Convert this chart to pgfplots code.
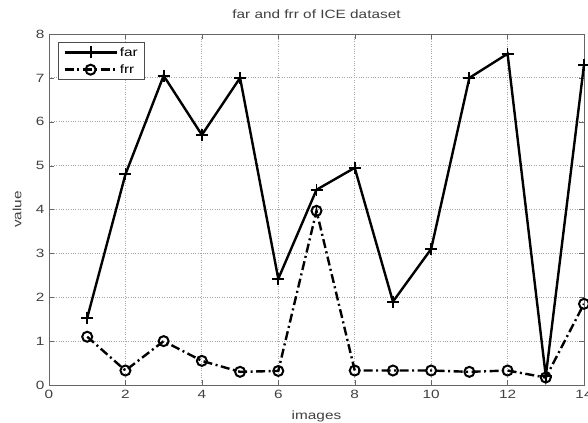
\documentclass[border=0pt]{standalone}
\usepackage{pgfplots}
\pgfplotsset{compat=1.18}
\usepackage{fontspec}
\setmainfont{Liberation Sans}[FakeStretch=1.28]
\begin{document}
\begin{tikzpicture}
\begin{axis}[
  scale only axis,
  width=535pt, height=351pt,
  xmin=0, xmax=14, ymin=0, ymax=8,
  xtick={0,2,...,14}, ytick={0,1,...,8},
  tick align=inside,
  tick pos=both,
  major tick length=5pt,
  grid=major,
  grid style={dotted, gray!70, line width=0.8pt},
  axis line style={gray!80!black, line width=0.8pt},
  tick style={gray!80!black},
  /pgf/number format/assume math mode=true,
  tick label style={font=\fontsize{12}{13}\selectfont, text=black!75},
  yticklabel style={xshift=-1pt},
  xticklabel style={yshift=-2pt},
  label style={font=\fontsize{12}{13}\selectfont, text=black!75},
  title style={font=\fontsize{12}{13}\selectfont, text=black!75,
    at={(axis description cs:0.5,1)}, anchor=center, yshift=14pt},
  title={far and frr of ICE dataset},
  xlabel={images}, ylabel={value},
  xlabel style={at={(axis description cs:0.5,0)}, anchor=center, yshift=-31pt},
  ylabel style={at={(axis description cs:-0.0598,0.5)}, anchor=center},
  legend style={at={(axis description cs:0,1)}, xshift=9pt, yshift=-8pt, anchor=north west,
    font=\fontsize{12}{13}\selectfont,
    draw=black!70, line width=0.8pt, inner xsep=5pt, inner ysep=3pt, row sep=3pt},
  legend cell align=left,
  legend image code/.code={
    \draw[mark repeat=2, mark phase=2] plot coordinates {(0pt,0pt) (26pt,0pt) (52pt,0pt)};
  },
]
\addplot[black, line width=2.4pt, mark=+, mark size=6pt, mark options={solid, line width=1.8pt}] coordinates {
  (1,1.53) (2,4.8) (3,7.05) (4,5.7) (5,7.0) (6,2.42) (7,4.45)
  (8,4.95) (9,1.9) (10,3.1) (11,7.0) (12,7.55) (13,0.2) (14,7.3)
};
\addlegendentry{far}
\addplot[black, line width=2.4pt, dash pattern=on 9pt off 3.5pt on 2pt off 3.5pt, mark=o, mark size=5pt, mark options={solid, line width=2pt}] coordinates {
  (1,1.1) (2,0.33) (3,1.0) (4,0.55) (5,0.3) (6,0.32) (7,3.97)
  (8,0.33) (9,0.33) (10,0.33) (11,0.3) (12,0.33) (13,0.17) (14,1.85)
};
\addlegendentry{frr}
\end{axis}
\pgfresetboundingbox
\path[use as bounding box] ([xshift=-49pt, yshift=-38pt]current axis.south west) rectangle ([xshift=4pt, yshift=34pt]current axis.north east);
\end{tikzpicture}
\end{document}
